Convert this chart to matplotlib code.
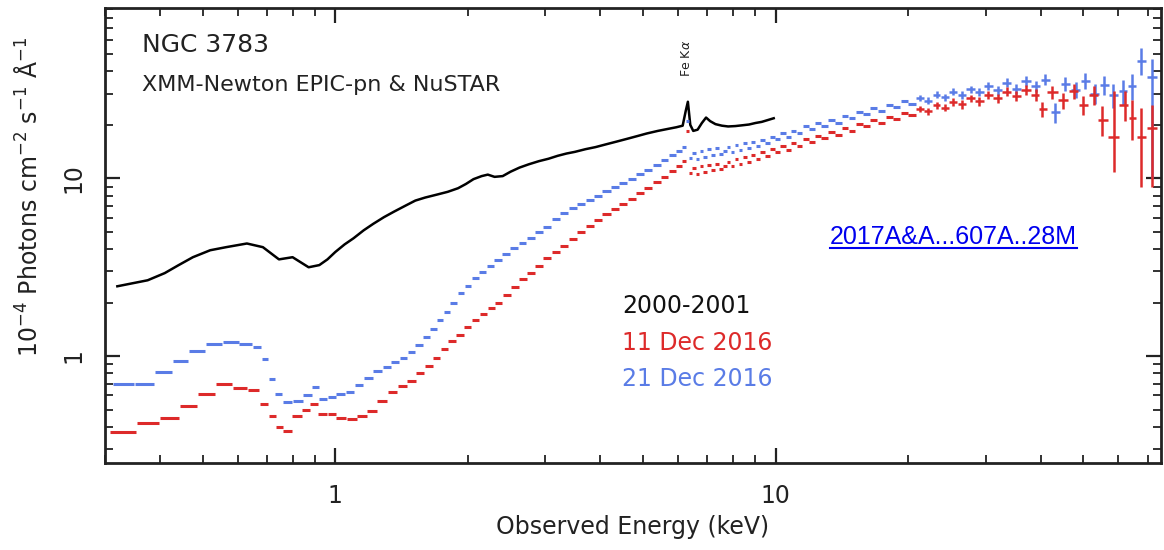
import numpy as np
import matplotlib
matplotlib.use("Agg")
import matplotlib.pyplot as plt
from matplotlib.ticker import FixedLocator, LogLocator, NullFormatter, FuncFormatter
from matplotlib.lines import Line2D
from matplotlib.transforms import blended_transform_factory

# 2000-2001 spectrum (keV, 1e-4 photons cm^-2 s^-1 A^-1)
black_e = [0.32, 0.375, 0.41, 0.44, 0.475, 0.52, 0.565, 0.63, 0.685, 0.745, 0.80, 0.87, 0.92,
           0.96, 1.00, 1.05, 1.10, 1.16, 1.22, 1.29, 1.36, 1.44, 1.52, 1.60, 1.70, 1.80, 1.90,
           1.98, 2.06, 2.15, 2.22, 2.30, 2.40, 2.50, 2.62, 2.75, 2.90, 3.05, 3.20, 3.35, 3.50,
           3.70, 3.90, 4.10, 4.35, 4.60, 4.85, 5.10, 5.40, 5.70, 5.95, 6.15, 6.25, 6.32, 6.40,
           6.50, 6.65, 6.80, 6.95, 7.10, 7.30, 7.55, 7.80, 8.10, 8.40, 8.70, 9.00, 9.30, 9.60, 9.90]
black_f = [2.47, 2.67, 2.93, 3.24, 3.60, 3.94, 4.10, 4.30, 4.10, 3.50, 3.60, 3.16, 3.25,
           3.50, 3.85, 4.25, 4.60, 5.10, 5.55, 6.05, 6.50, 7.00, 7.50, 7.80, 8.10, 8.40, 8.80,
           9.30, 9.90, 10.3, 10.5, 10.2, 10.3, 10.9, 11.5, 12.0, 12.5, 12.9, 13.4, 13.8, 14.1,
           14.6, 15.0, 15.5, 16.1, 16.7, 17.3, 17.9, 18.5, 19.0, 19.4, 19.8, 24.0, 27.0, 20.0,
           18.5, 18.8, 20.5, 22.0, 21.0, 20.2, 19.8, 19.6, 19.7, 19.9, 20.1, 20.5, 20.8, 21.3, 21.8]

# 21 Dec 2016
blue_e = [0.33, 0.37, 0.41, 0.445, 0.485, 0.53, 0.58, 0.63, 0.67, 0.69, 0.72, 0.74, 0.78, 0.82,
          0.87, 0.90, 0.94, 0.98, 1.03, 1.08, 1.13, 1.19, 1.25, 1.31, 1.37, 1.43, 1.49, 1.55,
          1.61, 1.67, 1.73, 1.79, 1.86, 1.93, 2.00, 2.08, 2.16, 2.25, 2.34, 2.44, 2.55, 2.66,
          2.78, 2.90, 3.03, 3.17, 3.31, 3.46, 3.62, 3.78, 3.95, 4.13, 4.32, 4.51, 4.71, 4.92,
          5.14, 5.37, 5.60, 5.83, 6.05, 6.20, 6.30, 6.40, 6.52, 6.65, 6.78, 6.92, 7.06, 7.20,
          7.35, 7.50, 7.66, 7.82, 7.98, 8.15, 8.32, 8.50, 8.70, 8.90, 9.10, 9.35, 9.60, 9.85,
          10.1, 10.4, 10.7, 11.0, 11.3, 11.7, 12.1, 12.5, 12.9, 13.4, 13.9, 14.4, 14.9, 15.5,
          16.1, 16.7, 17.4, 18.1, 18.8, 19.6, 20.4]
blue_f = [0.70, 0.70, 0.81, 0.94, 1.07, 1.17, 1.20, 1.17, 1.12, 0.96, 0.74, 0.61, 0.55, 0.56,
          0.60, 0.67, 0.57, 0.59, 0.61, 0.63, 0.69, 0.75, 0.82, 0.87, 0.92, 0.98, 1.06, 1.15,
          1.28, 1.42, 1.60, 1.78, 2.00, 2.25, 2.48, 2.75, 2.98, 3.20, 3.45, 3.75, 4.05, 4.30,
          4.60, 5.00, 5.35, 5.90, 6.40, 6.80, 7.20, 7.60, 7.95, 8.45, 8.90, 9.40, 9.90, 10.6,
          11.2, 11.9, 12.7, 13.5, 14.3, 15.0, 21.0, 13.0, 13.9, 12.8, 14.3, 13.2, 14.6, 13.5,
          14.8, 13.8, 14.3, 15.0, 14.1, 15.4, 14.5, 15.8, 14.9, 16.0, 15.3, 16.5, 15.8, 17.2,
          16.6, 17.9, 17.2, 18.6, 17.9, 19.6, 18.9, 20.4, 19.8, 21.4, 20.6, 22.5, 21.8, 23.6,
          22.9, 24.8, 24.0, 26.0, 25.2, 27.2, 26.3]
blue_hi_e = [21.3, 22.2, 23.2, 24.2, 25.3, 26.5, 27.7, 29.0, 30.4, 31.9, 33.5, 35.2, 37.0,
             39.0, 41.0, 43.2, 45.5, 48.0, 50.5, 53.0, 55.8, 58.5, 61.5, 64.5, 67.5, 71.5]
blue_hi_f = [28.3, 27.4, 29.6, 28.7, 30.8, 29.6, 31.8, 30.5, 33.2, 31.3, 34.5, 32.0, 35.5,
             33.0, 36.0, 23.5, 34.0, 31.5, 35.5, 30.0, 33.5, 29.5, 31.0, 33.0, 46.0, 37.0]
blue_hi_lo = [1.2, 1.2, 1.3, 1.3, 1.4, 1.5, 1.5, 1.6, 1.7, 1.8, 2.0, 2.0, 2.2,
              2.3, 2.5, 3.0, 3.0, 3.2, 3.5, 3.8, 4.0, 4.5, 5.0, 5.5, 8.0, 27.0]
blue_hi_up = [1.2, 1.2, 1.3, 1.3, 1.4, 1.5, 1.5, 1.6, 1.7, 1.8, 2.0, 2.0, 2.2,
              2.3, 2.5, 3.0, 3.0, 3.2, 3.5, 3.8, 4.0, 4.5, 5.0, 5.5, 8.0, 10.0]

# 11 Dec 2016
red_e = [0.33, 0.38, 0.42, 0.465, 0.51, 0.56, 0.61, 0.655, 0.69, 0.72, 0.745, 0.775, 0.82,
         0.86, 0.89, 0.94, 0.98, 1.03, 1.09, 1.15, 1.21, 1.28, 1.35, 1.42, 1.49, 1.56, 1.63,
         1.70, 1.77, 1.84, 1.92, 2.00, 2.08, 2.17, 2.26, 2.35, 2.45, 2.56, 2.67, 2.78, 2.90,
         3.03, 3.17, 3.31, 3.46, 3.62, 3.78, 3.95, 4.13, 4.32, 4.51, 4.71, 4.92, 5.14, 5.37,
         5.60, 5.83, 6.05, 6.20, 6.30, 6.40, 6.52, 6.65, 6.78, 6.92, 7.06, 7.20, 7.35, 7.50,
         7.66, 7.82, 7.98, 8.15, 8.32, 8.50, 8.70, 8.90, 9.10, 9.35, 9.60, 9.85, 10.1, 10.4,
         10.7, 11.0, 11.3, 11.7, 12.1, 12.5, 12.9, 13.4, 13.9, 14.4, 14.9, 15.5, 16.1, 16.7,
         17.4, 18.1, 18.8, 19.6, 20.4]
red_f = [0.375, 0.42, 0.45, 0.52, 0.61, 0.70, 0.66, 0.64, 0.54, 0.46, 0.40, 0.38, 0.46,
         0.50, 0.54, 0.47, 0.47, 0.45, 0.44, 0.46, 0.49, 0.56, 0.63, 0.68, 0.72, 0.80, 0.88,
         0.98, 1.10, 1.22, 1.32, 1.45, 1.60, 1.72, 1.86, 2.00, 2.20, 2.45, 2.70, 2.95, 3.20,
         3.55, 3.85, 4.15, 4.55, 5.00, 5.40, 5.80, 6.30, 6.75, 7.20, 7.70, 8.30, 8.85, 9.50,
         10.2, 11.0, 11.8, 12.6, 18.5, 10.7, 11.4, 10.6, 11.7, 10.9, 11.9, 11.1, 12.1, 11.3,
         11.8, 12.4, 11.7, 12.8, 12.0, 13.2, 12.4, 13.5, 12.8, 14.0, 13.3, 14.6, 14.0, 15.2,
         14.5, 15.8, 15.2, 16.6, 16.0, 17.4, 16.8, 18.2, 17.5, 19.2, 18.5, 20.2, 19.6, 21.3,
         20.6, 22.3, 21.6, 23.4, 22.7]
red_hi_e = [21.3, 22.2, 23.2, 24.2, 25.3, 26.5, 27.7, 29.0, 30.4, 31.9, 33.5, 35.2, 37.0,
            39.0, 40.2, 42.5, 45.0, 47.5, 50.0, 52.8, 55.2, 58.6, 62.0, 64.5, 67.5, 71.5]
red_hi_f = [24.6, 23.8, 25.8, 25.0, 27.0, 26.1, 28.2, 27.2, 29.6, 28.3, 30.8, 29.0, 31.5,
            29.6, 24.5, 30.5, 27.5, 31.0, 26.0, 29.5, 21.4, 17.2, 26.0, 22.0, 17.2, 19.3]
red_hi_lo = [1.1, 1.1, 1.2, 1.2, 1.3, 1.4, 1.4, 1.5, 1.6, 1.7, 1.9, 1.9, 2.1,
             2.2, 2.4, 2.5, 2.8, 3.0, 3.2, 3.5, 4.0, 6.3, 5.0, 5.5, 8.3, 10.4]
red_hi_up = [1.1, 1.1, 1.2, 1.2, 1.3, 1.4, 1.4, 1.5, 1.6, 1.7, 1.9, 1.9, 2.1,
             2.2, 2.4, 2.5, 2.8, 3.0, 3.2, 3.5, 4.0, 13.7, 5.0, 5.5, 7.8, 6.7]

legend_labels = ["2000-2001", "11 Dec 2016", "21 Dec 2016"]

BLUE = "#5a7ce6"
RED = "#dd2a2a"


def bin_halfwidths(e, shrink=0.95):
    # geometric midpoints between neighbouring channels give the bin edges
    e = np.asarray(e, dtype=float)
    mid = np.sqrt(e[1:] * e[:-1])
    lo = np.concatenate([[e[0] ** 2 / mid[0]], mid])
    hi = np.concatenate([mid, [e[-1] ** 2 / mid[-1]]])
    return shrink * (e - lo), shrink * (hi - e)


def plot_spectrum(ax, e, f, color, lo=None, up=None, lw=2.2):
    xl, xh = bin_halfwidths(e)
    yerr = None if lo is None else [lo, up]
    ax.errorbar(e, f, xerr=[xl, xh], yerr=yerr, fmt="none", ecolor=color,
                elinewidth=lw, capsize=0)


def main():
    fig = plt.figure(figsize=(11.64, 5.5), dpi=100)
    ax = fig.add_axes([105 / 1164, 1 - 463 / 550, 1056 / 1164, 455 / 550])

    ax.plot(black_e, black_f, color="k", lw=1.8)
    plot_spectrum(ax, blue_e, blue_f, BLUE)
    plot_spectrum(ax, blue_hi_e, blue_hi_f, BLUE, blue_hi_lo, blue_hi_up, lw=1.8)
    plot_spectrum(ax, red_e, red_f, RED)
    plot_spectrum(ax, red_hi_e, red_hi_f, RED, red_hi_lo, red_hi_up, lw=1.8)

    ax.set_xscale("log")
    ax.set_yscale("log")
    ax.set_xlim(0.3, 75)
    ax.set_ylim(0.25, 91)

    for axis in (ax.xaxis, ax.yaxis):
        axis.set_major_locator(FixedLocator([1, 10]))
        axis.set_major_formatter(FuncFormatter(lambda v, p: f"{v:g}"))
        axis.set_minor_locator(LogLocator(base=10, subs=np.arange(2, 10)))
        axis.set_minor_formatter(NullFormatter())

    ax.tick_params(which="both", direction="in", top=True, right=True, colors="#222222",
                   labelcolor="#222222", labelsize=17)
    ax.tick_params(which="major", length=11, width=1.6)
    ax.tick_params(which="minor", length=6, width=1.3)
    ax.tick_params(axis="x", pad=15)
    ax.tick_params(axis="y", pad=14, labelrotation=90)
    for lab in ax.get_yticklabels():
        lab.set_va("center")
    for sp in ax.spines.values():
        sp.set_linewidth(2)
        sp.set_color("#222222")

    ax.set_xlabel("Observed Energy (keV)", fontsize=17, color="#222222")
    ax.xaxis.set_label_coords(0.5, -0.115)
    ax.set_ylabel(r"10$^{-4}$ Photons cm$^{-2}$ s$^{-1}$ Å$^{-1}$", fontsize=17,
                  color="#222222")
    ax.yaxis.set_label_coords(-0.06, 0.585)

    ax.text(0.035, 0.918, "NGC 3783", transform=ax.transAxes, fontsize=18,
            va="center", ha="left", color="#222222")
    ax.text(0.035, 0.83, "XMM-Newton EPIC-pn & NuSTAR", transform=ax.transAxes,
            fontsize=16, va="center", ha="left", color="#222222")

    for lab, col, yy in zip(legend_labels, ["#111111", RED, BLUE], [0.345, 0.264, 0.185]):
        ax.text(0.49, yy, lab, transform=ax.transAxes, fontsize=17, color=col,
                va="center", ha="left")

    trans = blended_transform_factory(ax.transData, ax.transAxes)
    ax.text(6.28, 0.89, r"Fe K$\alpha$", transform=trans, rotation=90, fontsize=9,
            ha="center", va="center", color="#222222")

    link = fig.text(830 / 1164, 1 - 244 / 550, "2017A&A...607A..28M", fontsize=18,
                    family="Liberation Sans", color="#0000ee", ha="left", va="baseline")
    fig.canvas.draw()
    bb = link.get_window_extent(fig.canvas.get_renderer())
    inv = fig.transFigure.inverted()
    (x0, y0), (x1, _) = inv.transform([(bb.x0, bb.y0), (bb.x1, bb.y0)])
    fig.add_artist(Line2D([x0, x1], [y0 + 0.002, y0 + 0.002], transform=fig.transFigure,
                          color="#0000ee", lw=1.5))

    fig.savefig("out.png", dpi=100)
    plt.close(fig)


if __name__ == "__main__":
    main()
